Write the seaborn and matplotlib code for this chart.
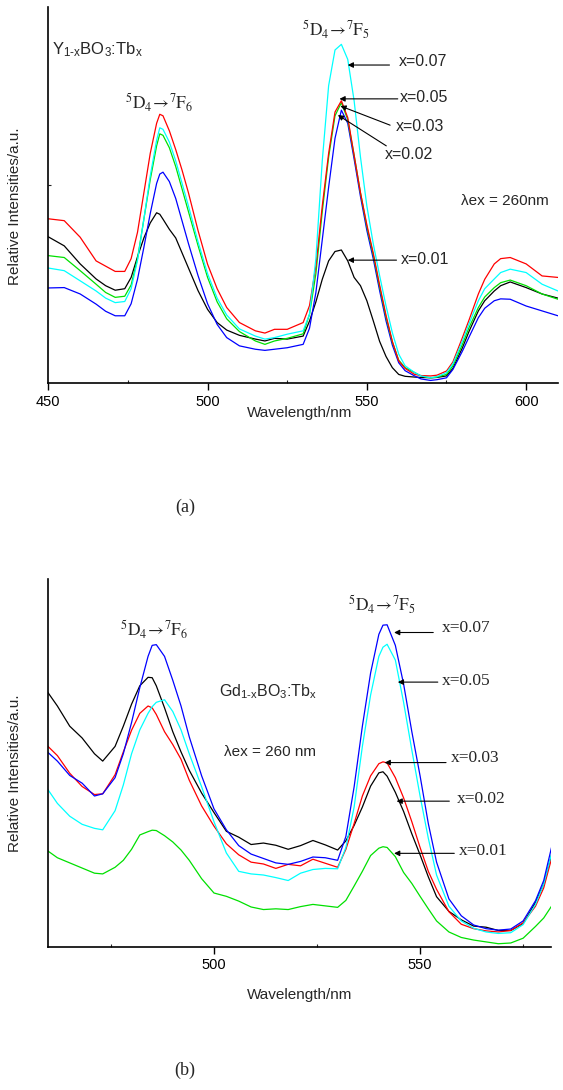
import matplotlib
matplotlib.use("Agg")
import matplotlib.pyplot as plt
import pandas as pd
import seaborn as sns

# ---------------- Y(1-x)BO3:Tb(x) emission spectra (panel a) ----------------
Y_WAVELENGTH = [450, 455, 460, 465, 468, 471, 474, 476, 478, 480, 482, 484, 485, 486, 488,
                490, 492, 494, 497, 500, 503, 506, 510, 515, 518, 521, 525, 530, 532, 534,
                536, 538, 540, 542, 544, 546, 548, 550, 552, 554, 556, 558, 560, 562, 565,
                567, 570, 572, 575, 577, 580, 582, 585, 587, 590, 592, 595, 600, 605, 610]
Y_X001 = [38.8, 36.4, 31.6, 27.6, 25.8, 24.6, 25.0, 28.0, 33.5, 38.5, 42.5, 45.2, 44.8, 43.5, 40.8,
          38.5, 34.5, 30.5, 24.5, 19.5, 16.0, 14.0, 12.6, 11.6, 11.1, 11.8, 11.6, 12.4, 16.4, 21.5,
          27.5, 32.4, 34.9, 35.3, 32.4, 28.0, 25.8, 21.8, 16.5, 11.0, 7.0, 4.0, 2.2, 1.7, 1.5,
          1.4, 1.3, 1.4, 1.8, 3.8, 9.3, 13.5, 19.1, 21.8, 24.4, 25.8, 26.8, 25.3, 23.6, 22.5]
Y_X002 = [25.2, 25.3, 23.6, 20.9, 19.0, 17.8, 17.8, 21.0, 27.5, 36.0, 45.0, 53.0, 55.5, 56.0, 53.5,
          49.0, 43.0, 37.0, 28.5, 21.0, 15.5, 12.0, 9.8, 8.9, 8.6, 8.9, 9.3, 10.2, 14.5, 24.0,
          38.0, 52.0, 65.0, 72.5, 69.0, 59.5, 49.5, 40.5, 33.0, 24.5, 16.5, 10.0, 5.3, 3.2, 1.8,
          1.0, 0.6, 0.8, 1.3, 3.5, 8.4, 12.0, 17.3, 19.8, 21.8, 22.3, 22.2, 20.4, 19.1, 17.8]
Y_X003 = [33.8, 33.3, 29.8, 26.2, 24.0, 22.7, 23.0, 26.0, 33.0, 43.5, 54.0, 63.0, 66.2, 65.8, 62.5,
          57.5, 51.5, 45.5, 36.5, 28.0, 21.5, 17.0, 13.6, 11.1, 10.2, 11.1, 11.8, 13.0, 18.2, 29.0,
          45.5, 60.0, 71.0, 74.5, 70.0, 60.5, 50.5, 41.5, 34.0, 25.5, 17.5, 10.8, 6.0, 4.0, 2.7,
          1.8, 1.3, 1.5, 2.2, 4.5, 10.2, 14.5, 20.0, 22.8, 25.3, 26.6, 27.3, 25.8, 23.6, 22.2]
Y_X005 = [43.6, 43.1, 38.7, 32.4, 31.0, 29.6, 29.6, 33.0, 40.0, 50.5, 61.0, 69.0, 71.4, 71.0, 67.0,
          62.0, 56.5, 50.5, 40.5, 31.5, 25.0, 20.0, 16.0, 13.8, 13.2, 14.2, 14.2, 16.0, 20.5, 31.0,
          47.0, 61.0, 72.0, 75.0, 70.5, 60.5, 50.5, 42.0, 34.5, 26.0, 18.0, 11.0, 5.8, 3.8, 2.2,
          1.9, 1.8, 2.0, 3.1, 5.5, 12.0, 16.5, 23.6, 27.5, 31.6, 33.0, 33.3, 31.6, 28.4, 28.0]
Y_X007 = [30.5, 29.8, 27.1, 24.4, 22.5, 21.3, 21.6, 25.0, 32.5, 43.5, 55.0, 64.5, 67.8, 67.4, 64.0,
          59.0, 53.0, 47.0, 37.5, 29.0, 22.5, 18.0, 14.3, 12.4, 11.6, 12.0, 12.9, 13.8, 18.2, 33.0,
          59.0, 79.0, 88.5, 90.0, 86.0, 75.0, 60.0, 47.0, 37.0, 28.5, 20.5, 13.3, 7.6, 4.5, 2.7,
          1.8, 1.3, 1.6, 2.7, 5.0, 11.1, 15.5, 21.8, 25.0, 27.6, 29.3, 30.2, 29.3, 26.2, 24.4]

# ---------------- Gd(1-x)BO3:Tb(x) emission spectra (panel b) ----------------
GD_WAVELENGTH = [459, 462, 465, 468, 471, 473, 476, 478, 480, 482, 484, 485, 486, 488, 490,
                 492, 494, 497, 500, 503, 506, 509, 512, 515, 518, 521, 524, 527, 530, 532,
                 534, 536, 538, 540, 541, 542, 544, 546, 548, 550, 552, 554, 557, 560, 563,
                 566, 569, 572, 575, 578, 580, 582]
GD_X001 = [26.6, 24.2, 22.8, 21.4, 20.0, 19.8, 21.6, 23.5, 26.5, 30.4, 31.3, 31.7, 31.6, 30.2, 28.5,
           26.3, 23.5, 18.5, 14.6, 13.7, 12.4, 10.8, 10.1, 10.3, 10.1, 10.9, 11.5, 11.1, 10.7, 12.6,
           16.5, 20.5, 24.8, 26.8, 27.2, 27.0, 24.5, 20.2, 17.2, 13.7, 10.3, 7.0, 4.0, 2.5, 1.8,
           1.3, 0.8, 1.0, 2.3, 5.5, 7.8, 11.2]
GD_X002 = [70.3, 65.5, 60.0, 56.8, 52.5, 50.5, 54.5, 60.0, 66.0, 71.0, 73.3, 73.2, 71.0, 65.0, 58.5,
           53.0, 48.0, 41.8, 36.5, 31.4, 29.8, 27.8, 28.2, 27.6, 26.5, 27.5, 28.9, 27.7, 26.3, 28.8,
           33.0, 38.0, 43.7, 47.3, 47.6, 46.4, 42.0, 36.8, 30.7, 25.0, 19.0, 13.6, 9.6, 7.3, 5.6,
           5.3, 4.4, 4.4, 6.3, 12.0, 17.0, 25.3]
GD_X003 = [55.3, 52.0, 47.2, 43.6, 41.4, 41.6, 46.8, 53.0, 58.9, 63.5, 65.5, 65.0, 63.2, 58.5, 55.0,
           51.0, 45.3, 38.3, 32.8, 28.0, 25.0, 23.0, 22.5, 21.3, 22.4, 22.0, 23.8, 22.7, 21.6, 26.5,
           33.5, 41.0, 46.5, 49.8, 50.3, 50.0, 46.0, 40.5, 34.0, 27.0, 20.5, 15.6, 9.5, 6.1, 4.9,
           4.3, 4.0, 4.4, 6.5, 11.0, 16.0, 24.4]
GD_X005 = [43.9, 39.0, 35.5, 33.3, 32.2, 31.8, 37.0, 44.0, 52.5, 59.0, 63.5, 65.3, 66.5, 67.2, 64.0,
           59.0, 52.5, 43.5, 34.0, 25.5, 20.5, 19.8, 19.5, 18.8, 18.0, 20.0, 21.0, 21.3, 21.2, 27.0,
           38.0, 54.5, 68.5, 79.0, 81.5, 82.3, 78.0, 66.5, 53.5, 41.0, 29.5, 19.5, 11.0, 7.0, 5.0,
           4.0, 3.6, 3.8, 6.0, 11.5, 17.0, 25.7]
GD_X007 = [53.6, 50.5, 46.6, 44.5, 41.0, 41.6, 46.0, 52.5, 61.0, 70.5, 79.0, 82.0, 82.2, 79.0, 72.5,
           65.5, 57.1, 46.5, 37.5, 31.8, 27.5, 25.2, 24.0, 22.8, 22.4, 23.2, 24.4, 24.2, 23.5, 30.0,
           43.5, 60.0, 74.5, 85.0, 87.5, 87.6, 82.0, 71.5, 58.5, 46.5, 33.5, 23.0, 13.0, 8.4, 5.9,
           4.9, 4.5, 4.8, 7.0, 12.5, 18.0, 27.5]

LABELS = ["x=0.01", "x=0.02", "x=0.03", "x=0.05", "x=0.07"]
Y_COLORS = {"x=0.01": "#000000", "x=0.02": "#0000ff", "x=0.03": "#00e000",
            "x=0.05": "#ff0000", "x=0.07": "#00ffff"}
GD_COLORS = {"x=0.01": "#00e000", "x=0.02": "#000000", "x=0.03": "#ff0000",
             "x=0.05": "#00ffff", "x=0.07": "#0000ff"}

sns.set_style("ticks")
plt.rcParams["font.family"] = ["Liberation Sans", "DejaVu Sans"]
plt.rcParams["mathtext.fontset"] = "custom"
plt.rcParams["mathtext.rm"] = "Liberation Sans"
plt.rcParams["mathtext.it"] = "Liberation Sans:italic"
plt.rcParams["mathtext.bf"] = "Liberation Sans:bold"
SERIF = ["Liberation Serif", "DejaVu Serif"]


def long_frame(wavelength, columns):
    parts = [pd.DataFrame({"Wavelength": wavelength, "Intensity": vals, "sample": lab})
             for lab, vals in zip(LABELS, columns)]
    return pd.concat(parts, ignore_index=True)


def style_axes(ax, xlim, major, minor):
    ax.set_xlim(*xlim)
    ax.set_ylim(0, 100)
    for side in ("top", "right"):
        ax.spines[side].set_visible(False)
    for side in ("left", "bottom"):
        ax.spines[side].set_linewidth(1.2)
        ax.spines[side].set_color("black")
    ax.set_xticks(major)
    ax.set_xticks(minor, minor=True)
    ax.tick_params(axis="x", which="major", direction="out", length=5, width=1.0,
                   labelsize=10.5, pad=3.5, colors="black")
    ax.tick_params(axis="x", which="minor", direction="in", length=2, width=0.8)
    ax.set_xlabel("Wavelength/nm", fontsize=11)
    ax.set_ylabel("Relative Intensities/a.u.", fontsize=11)


def arrow(ax, head, tail):
    ax.annotate("", xy=head, xytext=tail,
                arrowprops=dict(arrowstyle="-|>", color="black", lw=0.8,
                                mutation_scale=8, shrinkA=0, shrinkB=0))


TRANS_6 = r"$^{5}\mathrm{D}_{4}\!\rightarrow\!{}^{7}\mathrm{F}_{6}$"
TRANS_5 = r"$^{5}\mathrm{D}_{4}\!\rightarrow\!{}^{7}\mathrm{F}_{5}$"

fig = plt.figure(figsize=(5.63, 10.9), dpi=100)
ax1 = fig.add_axes([0.0858, 0.6489, 0.9053, 0.3449])
ax2 = fig.add_axes([0.0858, 0.1315, 0.8924, 0.3371])

# ---- panel (a) ----
df_y = long_frame(Y_WAVELENGTH, [Y_X001, Y_X002, Y_X003, Y_X005, Y_X007])
sns.lineplot(data=df_y, x="Wavelength", y="Intensity", hue="sample", hue_order=LABELS,
             palette=Y_COLORS, estimator=None, sort=False, lw=0.9, legend=False, ax=ax1)
style_axes(ax1, (450, 610), [450, 500, 550, 600], [475, 525, 575])
ax1.set_yticks([52.7])
ax1.set_yticklabels([])
ax1.tick_params(axis="y", direction="in", length=2, width=0.8)
ax1.xaxis.set_label_coords(0.494, -0.062)
ax1.yaxis.set_label_coords(-0.052, 0.47)

ax1.text(451.3, 88.5, "Y$_{\\mathrm{1\u2010x}}$BO$_{\\mathrm{3}}$:Tb$_{\\mathrm{x}}$", fontsize=12,
         ha="left", va="center")
ax1.text(484.9, 74.5, TRANS_6, fontsize=12.5, ha="center", va="center", math_fontfamily="stix")
ax1.text(540.2, 94.0, TRANS_5, fontsize=12.5, ha="center", va="center", math_fontfamily="stix")
ax1.text(579.6, 48.2, "λex = 260nm", fontsize=11, ha="left", va="center")

for label, text_xy, head, tail in [
    ("x=0.07", (559.9, 85.4), (544.0, 84.5), (557.1, 84.5)),
    ("x=0.05", (560.3, 75.9), (541.4, 75.5), (559.7, 75.5)),
    ("x=0.03", (559.0, 68.1), (541.7, 73.6), (557.3, 68.5)),
    ("x=0.02", (555.5, 60.8), (540.9, 71.2), (556.1, 63.0)),
    ("x=0.01", (560.8, 32.9), (544.0, 32.6), (559.3, 32.6)),
]:
    ax1.text(*text_xy, label, fontsize=11.5, ha="left", va="center")
    arrow(ax1, head, tail)

# ---- panel (b) ----
df_gd = long_frame(GD_WAVELENGTH, [GD_X001, GD_X002, GD_X003, GD_X005, GD_X007])
sns.lineplot(data=df_gd, x="Wavelength", y="Intensity", hue="sample", hue_order=LABELS,
             palette=GD_COLORS, estimator=None, sort=False, lw=0.9, legend=False, ax=ax2)
style_axes(ax2, (459.8, 581.7), [500, 550], [475, 525, 575])
ax2.set_yticks([])
ax2.xaxis.set_label_coords(0.5, -0.112)
ax2.yaxis.set_label_coords(-0.052, 0.473)

ax2.text(485.4, 86.2, TRANS_6, fontsize=12.5, ha="center", va="center", math_fontfamily="stix")
ax2.text(540.9, 93.0, TRANS_5, fontsize=12.5, ha="center", va="center", math_fontfamily="stix")
ax2.text(501.3, 69.5, "Gd$_{\\mathrm{1\u2010x}}$BO$_{\\mathrm{3}}$:Tb$_{\\mathrm{x}}$", fontsize=11.5,
         ha="left", va="center")
ax2.text(502.4, 53.1, "λex = 260 nm", fontsize=11, ha="left", va="center")

for label, text_xy, head, tail in [
    ("x=0.07", (555.3, 86.7), (543.7, 85.5), (553.2, 85.5)),
    ("x=0.05", (555.3, 72.2), (544.6, 72.0), (554.3, 72.0)),
    ("x=0.03", (557.5, 51.3), (541.4, 50.1), (556.3, 50.1)),
    ("x=0.02", (558.9, 40.2), (544.3, 39.6), (557.1, 39.6)),
    ("x=0.01", (559.4, 26.1), (543.7, 25.4), (558.3, 25.4)),
]:
    ax2.text(*text_xy, label, fontsize=12.5, ha="left", va="center", family=SERIF)
    arrow(ax2, head, tail)

fig.text(185 / 563, 1 - 507 / 1090, "(a)", fontsize=13, ha="center", va="center", family=SERIF)
fig.text(185 / 563, 1 - 1070 / 1090, "(b)", fontsize=13, ha="center", va="center", family=SERIF)

fig.savefig("out.png", dpi=100)
